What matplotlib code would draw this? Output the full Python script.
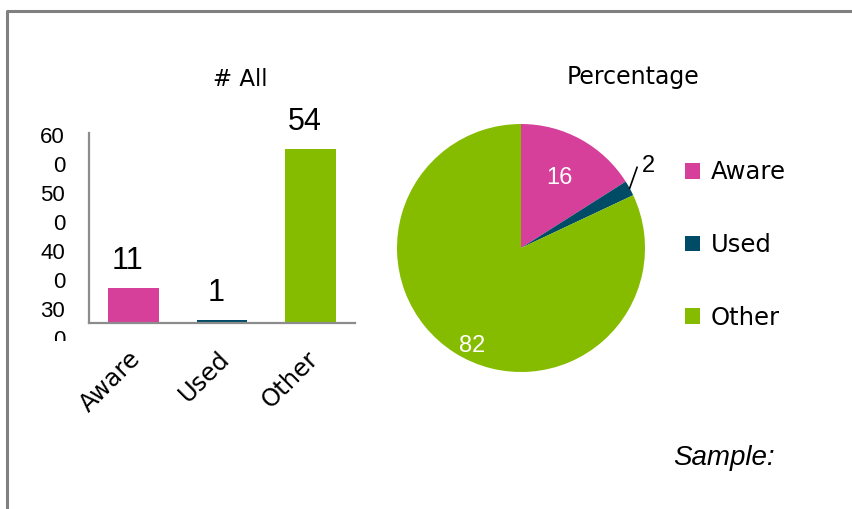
import numpy as np
import matplotlib
matplotlib.use("Agg")
import matplotlib.pyplot as plt
import matplotlib.transforms as mtransforms
from matplotlib.lines import Line2D
from matplotlib.patches import Rectangle

# ---- data ----
categories = ["Aware", "Used", "Other"]
counts = [11, 1, 54]
percent = [16, 2, 82]
ytick_pos = [0, 18, 36, 54]
ytick_labels = ["30\n0", "40\n0", "50\n0", "60\n0"]
colors = ["#D6409A", "#004B66", "#85BC00"]

W, H = 852, 509
fig = plt.figure(figsize=(W / 100, H / 100), dpi=100)

TEXT_FONT = ["DejaVu Sans"]
NUM_FONT = ["Liberation Sans", "DejaVu Sans"]


def fx(px):
    return px / W


def fy(py):
    return 1 - py / H


# outer frame (top and left edges)
fig.add_artist(Line2D([fx(7), fx(7), fx(W + 5)], [fy(H + 5), fy(11), fy(11)],
                      transform=fig.transFigure, color="#808080", lw=2.2))

# ---- bar chart ----
ax = fig.add_axes([fx(89), fy(323), fx(355) - fx(89), fy(133) - fy(323)])
x = np.arange(len(categories))
bars = ax.bar(x, counts, width=0.575, color=colors)
ax.set_xlim(-0.5, 2.5)
ax.set_ylim(0, 59)
for s in ["top", "right"]:
    ax.spines[s].set_visible(False)
for s in ["left", "bottom"]:
    ax.spines[s].set_color("#8c8c8c")
    ax.spines[s].set_linewidth(1.6)
ax.set_yticks([])
ax.set_xticks([])

for xi, v in zip(x, counts):
    ax.annotate(str(v), (xi, v), xytext=(-6, 12), textcoords="offset pixels",
                ha="center", va="bottom", fontsize=22, family=NUM_FONT)

# y labels, cut off at the bottom edge of the plot region
clip_rect = Rectangle((0, fy(341)), 1, 1, transform=fig.transFigure,
                      facecolor="none", edgecolor="none")
fig.add_artist(clip_rect)
shift = mtransforms.ScaledTranslation(-24 / 100, -3 / 100, fig.dpi_scale_trans)
for yp, lab in zip(ytick_pos, ytick_labels):
    t = ax.text(0, yp, lab, transform=ax.get_yaxis_transform() + shift,
                ha="right", va="center", multialignment="right",
                fontsize=16, family=NUM_FONT, linespacing=1.52)
    t.set_clip_path(clip_rect)
    t.set_clip_on(True)

for xi, lab in zip(x, categories):
    ax.text(xi + 0.04, -10, lab, rotation=45, rotation_mode="anchor",
            ha="right", va="center", fontsize=17.5, family=TEXT_FONT)

fig.text(fx(240), fy(86), "# All", ha="center", va="baseline",
         fontsize=16.5, family=TEXT_FONT)

# ---- pie chart ----
R = 124
cx, cy = 521, 248
pax = fig.add_axes([fx(cx - R), fy(cy + R), 2 * R / W, 2 * R / H])
wedges, _ = pax.pie(percent, colors=colors, startangle=90, counterclock=False,
                    wedgeprops=dict(linewidth=0))
pax.set_xlim(-1, 1)
pax.set_ylim(-1, 1)

label_dist = [0.64, 1.22, 0.88]
angle_nudge = [0, 4, 6]
label_color = ["white", "black", "white"]
for w, p, d, da, c in zip(wedges, percent, label_dist, angle_nudge, label_color):
    mid = np.deg2rad((w.theta1 + w.theta2) / 2 + da)
    pax.text(d * np.cos(mid), d * np.sin(mid), str(p), ha="center", va="center",
             fontsize=17, color=c, family=NUM_FONT)

# leader line for the small slice
w = wedges[1]
mid = np.deg2rad((w.theta1 + w.theta2) / 2)
end = np.deg2rad((w.theta1 + w.theta2) / 2 + 6)
pax.plot([1.0 * np.cos(mid), 1.14 * np.cos(end)],
         [1.0 * np.sin(mid), 1.14 * np.sin(end)], color="black", lw=1.2,
         clip_on=False)

fig.text(fx(633), fy(84), "Percentage", ha="center", va="baseline",
         fontsize=17, family=TEXT_FONT)

leg = fig.legend(wedges, categories, loc="center left",
                 bbox_to_anchor=(fx(685), fy(245)), frameon=False,
                 prop=dict(family=TEXT_FONT, size=17.5),
                 handlelength=0.6, handleheight=0.6, handletextpad=0.45,
                 labelspacing=2.0, borderaxespad=0, borderpad=0)

fig.text(fx(673), fy(465), "Sample:", ha="left", va="baseline",
         fontsize=20, style="italic", family=NUM_FONT)

fig.savefig("out.png", dpi=100)
